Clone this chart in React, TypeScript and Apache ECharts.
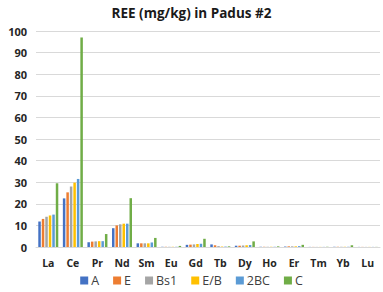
import React, { useEffect, useRef } from "react";
import * as echarts from "echarts";

const categories = ["La", "Ce", "Pr", "Nd", "Sm", "Eu", "Gd", "Tb", "Dy", "Ho", "Er", "Tm", "Yb", "Lu"];
const seriesNames = ["A", "E", "Bs1", "E/B", "2BC", "C"];
const seriesColors = ["#4472C4", "#ED7D31", "#A5A5A5", "#FFC000", "#5B9BD5", "#70AD47"];
const valuesA = [11.8, 22.5, 2.2, 8.7, 1.7, 0.1, 1.0, 1.2, 0.6, 0.1, 0.2, 0.05, 0.1, 0.05];
const valuesE = [13.0, 25.3, 2.5, 10.0, 1.7, 0.1, 1.1, 0.8, 0.6, 0.1, 0.3, 0.05, 0.1, 0.05];
const valuesBs1 = [14.0, 28.0, 2.6, 10.5, 1.7, 0.1, 1.2, 0.4, 0.7, 0.1, 0.3, 0.05, 0.1, 0.05];
const valuesEB = [14.6, 29.8, 2.7, 10.8, 1.7, 0.1, 1.4, 0.2, 0.8, 0.1, 0.3, 0.05, 0.1, 0.05];
const values2BC = [15.0, 31.5, 2.7, 10.8, 2.1, 0.1, 1.5, 0.2, 0.9, 0.1, 0.4, 0.05, 0.1, 0.05];
const valuesC = [29.5, 97.0, 6.0, 22.6, 4.2, 0.5, 3.8, 0.3, 2.6, 0.3, 1.0, 0.1, 0.8, 0.05];
const yTicks = { min: 0, max: 100, interval: 10 };

const allValues = [valuesA, valuesE, valuesBs1, valuesEB, values2BC, valuesC];

export default function App() {
  const ref = useRef<HTMLDivElement>(null);
  useEffect(() => {
    if (!ref.current) return;
    const chart = echarts.init(ref.current, undefined, { renderer: "svg" });
    chart.setOption({
      animation: false,
      backgroundColor: "#ffffff",
      title: {
        text: "REE (mg/kg) in Padus #2",
        left: "center",
        top: 1,
        textStyle: { fontFamily: "Open Sans", fontSize: 13.5, fontWeight: "bold", color: "#1a1a1a" },
      },
      legend: {
        bottom: 0,
        left: "center",
        itemWidth: 8,
        itemHeight: 8,
        itemGap: 14,
        icon: "rect",
        textStyle: { fontFamily: "Open Sans", fontSize: 12.5, color: "#404040", padding: [0, 0, 0, -2] },
        data: seriesNames,
      },
      grid: { left: 36, right: 3, top: 31, bottom: 45, containLabel: false },
      xAxis: {
        type: "category",
        data: categories,
        axisTick: { show: false },
        axisLine: { lineStyle: { color: "#d9d9d9", width: 1 } },
        axisLabel: { fontFamily: "Open Sans", fontSize: 10.5, fontWeight: "bold", color: "#262626", margin: 10 },
      },
      yAxis: {
        type: "value",
        min: yTicks.min,
        max: yTicks.max,
        interval: yTicks.interval,
        axisLine: { show: false },
        axisTick: { show: false },
        splitLine: { lineStyle: { color: "#d9d9d9", width: 1 } },
        axisLabel: { fontFamily: "Open Sans", fontSize: 11, fontWeight: "bold", color: "#262626", margin: 9 },
      },
      series: seriesNames.map((name, i) => ({
        name,
        type: "bar",
        data: allValues[i],
        barWidth: 2.5,
        barGap: "40%",
        itemStyle: { color: seriesColors[i] },
      })),
    });
    return () => chart.dispose();
  }, []);
  return <div ref={ref} style={{ width: 383, height: 292, position: "absolute", left: 0, top: 0 }} />;
}
